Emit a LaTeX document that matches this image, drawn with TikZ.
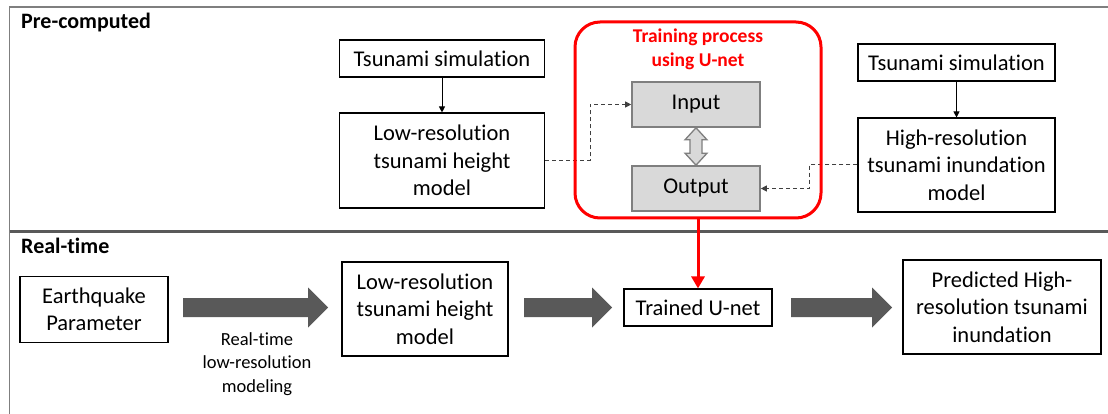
\documentclass[tikz,border=0pt]{standalone}
\usepackage{fontspec}
\setmainfont{Carlito}[Ligatures=NoCommon]
\usetikzlibrary{arrows.meta,calc}
\definecolor{arrowgray}{HTML}{595959}
\definecolor{boxgray}{HTML}{D9D9D9}
\definecolor{edgegray}{HTML}{7F7F7F}
\definecolor{framegray}{HTML}{7F7F7F}
\definecolor{dashgray}{HTML}{404040}
\definecolor{myred}{HTML}{FF0000}
\newcommand\mybigarrow[3]{%
  \fill[arrowgray] (#1,298) -- ({#3},298) -- ({#3},287.5) -- (#2,307.5) -- ({#3},327.5) -- ({#3},317) -- (#1,317) -- cycle;}
\begin{document}
\begin{tikzpicture}[x=1pt,y=-1pt,
  box/.style={draw=black, line width=1.1pt, fill=white, align=center, inner sep=0pt, font=\fontsize{22.5}{27.5}\selectfont},
  gbox/.style={draw=edgegray, line width=1.6pt, fill=boxgray, inner sep=0pt, font=\fontsize{22.5}{27.5}\selectfont},
  head/.style={font=\bfseries\fontsize{22}{27}\selectfont, anchor=base west, inner sep=0pt},
  conn/.style={draw=black, line width=0.9pt, -{Triangle[length=6pt,width=6pt]}},
  dconn/.style={draw=dashgray, line width=1pt, dash pattern=on 4pt off 3pt, -{Triangle[length=6pt,width=6pt]}},
  redconn/.style={draw=myred, line width=3pt, -{Triangle[length=12pt,width=13pt]}},
]
\useasboundingbox (0,0) rectangle (1108,414);
\fill[white] (0,0) rectangle (1108,414);
% frame and divider
\draw[framegray, line width=1.3pt] (9.5,416) -- (9.5,7) -- (1110,7);
\draw[arrowgray, line width=2.5pt] (9.5,231.5) -- (1110,231.5);
% section headings
\node[head] (pre) at (21,29) {Pre-computed};
\node[head] (rt) at (21,253) {Real-time};
% pre-computed
\node[box, minimum width=205pt, minimum height=37pt] (tsL) at (442,58.5) {Tsunami simulation};
\node[box, minimum width=205pt, minimum height=95pt] (lowT) at (442,160.5) {Low-resolution\\tsunami height\\model};
\node[gbox, minimum width=128pt, minimum height=45pt] (inp) at (696,104.5) {Input};
\node[gbox, minimum width=128pt, minimum height=45pt] (out) at (696,188.5) {Output};
\node[box, minimum width=197pt, minimum height=37pt] (tsR) at (956.5,62.5) {Tsunami simulation};
\node[box, minimum width=197pt, minimum height=94pt] (hiR) at (956.5,165) {High-resolution\\tsunami inundation\\model};
\draw[conn] (tsL.south) -- (lowT.north);
\draw[conn] (tsR.south) -- (hiR.north);
\coordinate (c1) at (590,0);
\coordinate (c2) at (809,0);
\draw[dconn] (lowT.east) -- (lowT.east -| c1) |- (inp.west);
\draw[dconn] (hiR.west) -- (hiR.west -| c2) |- (out.east);
% double arrow
\draw[edgegray, fill=boxgray, line width=1.3pt]
  (inp.south) -- ($(inp.south)+(11,12)$) -- ($(inp.south)+(6,12)$) -- ($(out.north)+(6,-12)$)
  -- ($(out.north)+(11,-12)$) -- (out.north) -- ($(out.north)+(-11,-12)$) -- ($(out.north)+(-6,-12)$)
  -- ($(inp.south)+(-6,12)$) -- ($(inp.south)+(-11,12)$) -- cycle;
% training box
\node[draw=myred, line width=3pt, rounded corners=25pt, minimum width=246pt, minimum height=196pt, inner sep=0pt] (train) at (698,120) {};
\node[font=\bfseries\fontsize{19.5}{24}\selectfont, text=myred, align=center, inner sep=0pt] (title) at (698,49) {Training process\\using U-net};
% real-time
\node[box, minimum width=148pt, minimum height=66pt] (eq) at (94,309.5) {Earthquake\\Parameter};
\node[box, minimum width=166pt, minimum height=94pt] (lowB) at (425,309) {Low-resolution\\tsunami height\\model};
\node[box, minimum width=148pt, minimum height=37pt] (unet) at (698,307.5) {Trained U-net};
\node[box, minimum width=198pt, minimum height=94pt] (pred) at (1002,307) {Predicted High-\\resolution tsunami\\inundation};
\node[font=\fontsize{18.5}{23.5}\selectfont, align=center, inner sep=0pt] (lbl) at (257,364) {Real-time\\low-resolution\\modeling};
\mybigarrow{183}{328}{308}
\mybigarrow{524}{612}{592}
\mybigarrow{791}{892}{872}
\draw[redconn] (train.south) -- (unet.north);
\end{tikzpicture}
\end{document}
